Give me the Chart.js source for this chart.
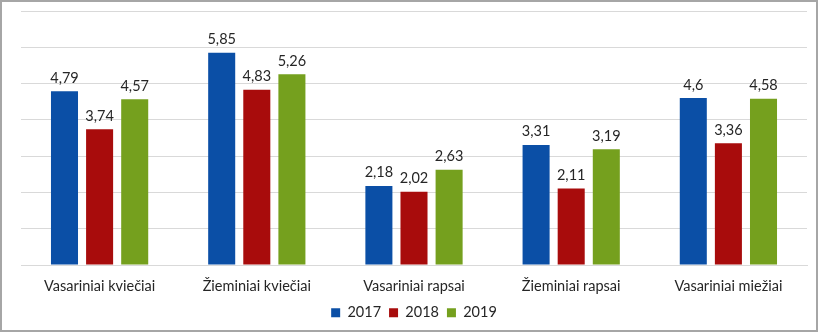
<!DOCTYPE html>
<html>
<head>
<meta charset="utf-8">
<script src="https://cdn.jsdelivr.net/npm/chart.js@4"></script>
<style>
  html, body { margin: 0; padding: 0; background: #fff; }
  .frame {
    position: absolute; left: 0; top: 0;
    width: 818px; height: 332px;
    box-sizing: border-box;
    border: 2px solid #a6a6a6;
  }
  .wrap { position: absolute; left: 0; top: 0; width: 820px; height: 333px; }
</style>
</head>
<body>
<div class="frame"></div>
<div class="wrap"><canvas id="chart"></canvas></div>
<script>
// chart data
const categories = ["Vasariniai kviečiai", "Žieminiai kviečiai", "Vasariniai rapsai", "Žieminiai rapsai", "Vasariniai miežiai"];
const years = ["2017", "2018", "2019"];
const values2017 = [4.79, 5.85, 2.18, 3.31, 4.6];
const values2018 = [3.74, 4.83, 2.02, 2.11, 3.36];
const values2019 = [4.57, 5.26, 2.63, 3.19, 4.58];
const colors = ["#0b4fa6", "#a80c0c", "#75a01e"];

const fontFamily = "Lato, 'Open Sans', sans-serif";

// draw value labels above each bar (comma decimal)
const valueLabels = {
  id: "valueLabels",
  afterDatasetsDraw(chart) {
    const ctx = chart.ctx;
    ctx.save();
    ctx.font = "14.5px " + fontFamily;
    ctx.fillStyle = "#262626";
    ctx.textAlign = "center";
    ctx.textBaseline = "bottom";
    chart.data.datasets.forEach((ds, i) => {
      chart.getDatasetMeta(i).data.forEach((bar, j) => {
        const txt = String(ds.data[j]).replace(".", ",");
        ctx.fillText(txt, bar.x, bar.y - 6);
      });
    });
    ctx.restore();
  }
};

const seriesData = [values2017, values2018, values2019];

new Chart(document.getElementById("chart"), {
  type: "bar",
  data: {
    labels: categories,
    datasets: years.map((y, i) => ({
      label: y,
      data: seriesData[i],
      backgroundColor: colors[i],
      borderWidth: 0,
      categoryPercentage: 0.67,
      barPercentage: 0.77
    }))
  },
  options: {
    responsive: true,
    maintainAspectRatio: false,
    animation: false,
    layout: { padding: { left: 21, right: 13, top: 11, bottom: 3 } },
    scales: {
      y: {
        min: 0,
        max: 7,
        ticks: { display: false, stepSize: 1 },
        grid: { color: "#d9d9d9", lineWidth: 1, drawTicks: false },
        border: { display: false }
      },
      x: {
        grid: { display: false, drawTicks: false },
        border: { color: "#d9d9d9" },
        ticks: {
          color: "#262626",
          font: { family: fontFamily, size: 14.5 },
          padding: 13
        },
        afterFit(scale) {
          scale.height = scale.height - 11;
        }
      }
    },
    plugins: {
      legend: {
        position: "bottom",
        labels: {
          boxWidth: 9,
          boxHeight: 9,
          color: "#262626",
          font: { family: fontFamily, size: 14.5 },
          padding: 8
        }
      },
      tooltip: { enabled: false }
    }
  },
  plugins: [valueLabels]
});
</script>
</body>
</html>
